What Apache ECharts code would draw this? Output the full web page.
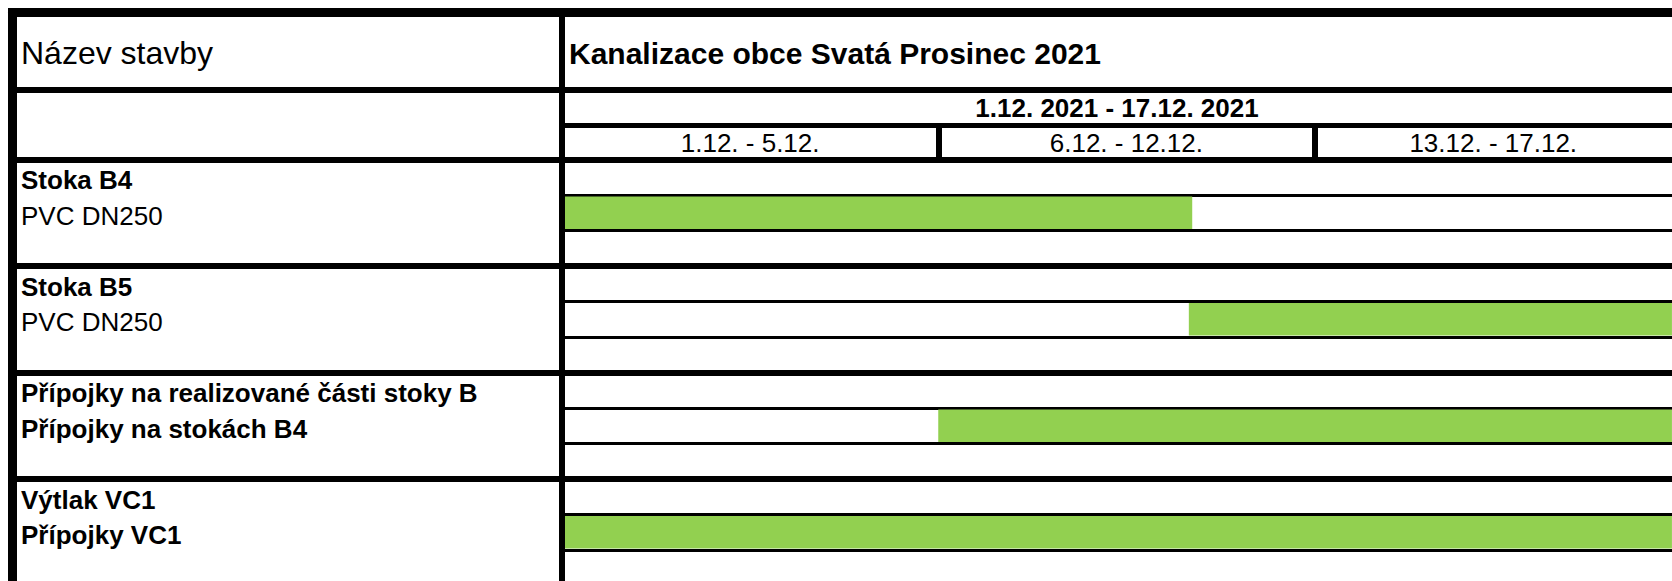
<!DOCTYPE html>
<html>
<head>
<meta charset="utf-8">
<script src="https://cdn.jsdelivr.net/npm/echarts@6/dist/echarts.min.js"></script>
<style>
  html, body { margin: 0; padding: 0; background: #fff; }
  #chart { width: 1672px; height: 581px; }
</style>
</head>
<body>
<div id="chart"></div>
<script>
const projectLabel = "Název stavby";
const projectName = "Kanalizace obce Svatá Prosinec 2021";
const dateRange = "1.12. 2021 - 17.12. 2021";
const periods = ["1.12. - 5.12.", "6.12. - 12.12.", "13.12. - 17.12."];

const taskNames = ["Stoka B4", "Stoka B5", "Přípojky na realizované části stoky B", "Výtlak VC1"];
const taskDetails = ["PVC DN250", "PVC DN250", "Přípojky na stokách B4", "Přípojky VC1"];
const detailBold = [false, false, true, true];
// start / end measured in period columns (0 = 1.12., 1 = 6.12., 2 = 13.12.)
const taskStart = [0, 1.666, 1, 0];
const taskEnd = [1.675, 2.95, 2.95, 2.95];

// layout of the sheet
const W = 1672, H = 581;
const LEFT = 12.5, DIV = 562;
const TOP_BORDER = 12.5, TITLE_LINE = 90, RANGE_LINE = 125.5, BODY_TOP = 159.5;
const ROW_H = 106.5, COL_W = 376.25;
const X_MAX = (W - DIV) / COL_W;
const FONT = "'Liberation Sans', Arial, sans-serif";
const GREEN = "#92d050";

const subRows = [];
taskNames.forEach((name, i) => subRows.push(name, taskDetails[i], ""));

const line = width => ({ show: true, onZero: false, lineStyle: { color: "#000", width } });
const off = { show: false };

function hLine(gridIndex, offset, width, max) {
  return {
    gridIndex, type: "value", position: "top", offset, min: 0, max,
    axisLine: line(width), axisTick: off, axisLabel: off, splitLine: off
  };
}

const chart = echarts.init(document.getElementById("chart"), null, { renderer: "svg" });

chart.setOption({
  animation: false,
  title: [
    { text: projectLabel, left: 21, top: 37, padding: 0,
      textStyle: { fontFamily: FONT, fontSize: 32, fontWeight: "normal", color: "#000" } },
    { text: projectName, left: 569, top: 38, padding: 0,
      textStyle: { fontFamily: FONT, fontSize: 30, fontWeight: "bold", color: "#000" } }
  ],
  grid: [
    { left: LEFT, top: BODY_TOP, width: DIV - LEFT, height: ROW_H * 4, outerBoundsMode: "none" },
    { left: DIV, top: BODY_TOP, width: W - DIV, height: ROW_H * 4, outerBoundsMode: "none" }
  ],
  xAxis: [
    hLine(0, 0, 6, 1),
    hLine(1, 0, 6, X_MAX),
    {
      gridIndex: 1, type: "value", position: "top", min: 0, max: X_MAX,
      axisLine: off, splitLine: off,
      axisTick: { show: true, customValues: [1, 2], length: BODY_TOP - RANGE_LINE,
        lineStyle: { color: "#000", width: 6 } },
      axisLabel: {
        customValues: periods.map((p, i) => (i + Math.min(i + 1, X_MAX)) / 2),
        formatter: v => periods[Math.floor(v)],
        margin: 17, verticalAlign: "middle",
        fontFamily: FONT, fontSize: 26, color: "#000"
      }
    },
    Object.assign(hLine(1, BODY_TOP - RANGE_LINE, 5, X_MAX), {
      name: dateRange, nameLocation: "middle", nameGap: 17.5,
      nameTextStyle: { fontFamily: FONT, fontSize: 26, fontWeight: "bold", color: "#000", verticalAlign: "middle" }
    }),
    hLine(0, BODY_TOP - TITLE_LINE, 6, 1),
    hLine(1, BODY_TOP - TITLE_LINE, 6, X_MAX),
    hLine(0, BODY_TOP - TOP_BORDER, 9, 1),
    hLine(1, BODY_TOP - TOP_BORDER, 9, X_MAX)
  ],
  yAxis: [
    {
      gridIndex: 0, type: "category", position: "left", data: taskNames, inverse: true,
      axisLine: off, axisTick: off, axisLabel: off,
      splitLine: { show: true, interval: 0, lineStyle: { color: "#000", width: 6 } }
    },
    {
      gridIndex: 0, type: "category", position: "left", data: subRows, inverse: true,
      axisLine: off, axisTick: off, splitLine: off,
      axisLabel: {
        inside: true, interval: 0, margin: 8.5, align: "left", verticalAlign: "middle", padding: [6, 0, 0, 0],
        formatter: (value, idx) => {
          if (!value) return "";
          const bold = idx % 3 === 0 || detailBold[Math.floor(idx / 3)];
          return "{" + (bold ? "b" : "n") + "|" + value + "}";
        },
        rich: {
          b: { fontFamily: FONT, fontSize: 26, fontWeight: "bold", color: "#000" },
          n: { fontFamily: FONT, fontSize: 26, fontWeight: "normal", color: "#000" }
        }
      }
    },
    {
      gridIndex: 1, type: "category", position: "left", data: taskNames, inverse: true,
      axisLine: off, axisTick: off, axisLabel: off,
      splitLine: { show: true, interval: 0, lineStyle: { color: "#000", width: 6 } }
    },
    {
      gridIndex: 1, type: "category", position: "left", data: subRows, inverse: true,
      axisLine: off, axisTick: off, axisLabel: off,
      splitLine: { show: true, interval: 0, lineStyle: { color: "#000", width: 3 } }
    }
  ],
  series: [{
    type: "custom",
    xAxisIndex: 1,
    yAxisIndex: 2,
    clip: true,
    data: taskNames.map((name, i) => [taskStart[i], taskEnd[i], i]),
    renderItem(params, api) {
      const a = api.coord([api.value(0), api.value(2)]);
      const b = api.coord([api.value(1), api.value(2)]);
      const h = api.size([0, 1])[1] / 3 - 3;
      const rect = echarts.graphic.clipRectByRect(
        { x: a[0], y: a[1] - h / 2, width: b[0] - a[0], height: h },
        params.coordSys
      );
      return rect && { type: "rect", shape: rect, style: { fill: GREEN } };
    }
  }],
  graphic: [
    { type: "line", z: 100, shape: { x1: LEFT, y1: 8, x2: LEFT, y2: H },
      style: { stroke: "#000", lineWidth: 9 } },
    { type: "line", z: 100, shape: { x1: DIV, y1: TOP_BORDER, x2: DIV, y2: H },
      style: { stroke: "#000", lineWidth: 6 } }
  ]
});
</script>
</body>
</html>
